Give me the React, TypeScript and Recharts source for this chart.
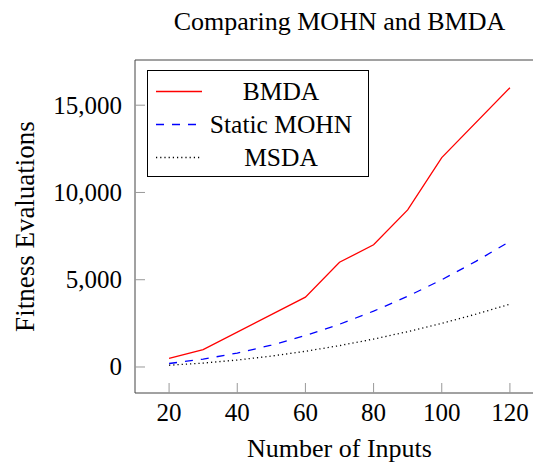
import { LineChart, Line, XAxis, YAxis, Legend, Label } from 'recharts';

const FONT = '"Liberation Serif", "Times New Roman", serif';

const INPUTS = [20, 30, 40, 50, 60, 70, 80, 90, 100, 110, 120];
const BMDA_INPUTS = [20, 30, 60, 70, 80, 90, 100, 120];
const BMDA_EVALS = [500, 1000, 4000, 6000, 7000, 9000, 12000, 16000];
const MOHN_EVALS = [200, 450, 800, 1250, 1800, 2450, 3200, 4050, 5000, 6050, 7200];
const MSDA_EVALS = [100, 225, 400, 625, 900, 1225, 1600, 2025, 2500, 3025, 3600];
const X_TICKS = [20, 40, 60, 80, 100, 120];
const Y_TICKS = [0, 5000, 10000, 15000];

const toPoints = (xs: number[], ys: number[]) => xs.map((x, i) => ({ x, y: ys[i] }));

const SERIES = [
  { name: 'BMDA', data: toPoints(BMDA_INPUTS, BMDA_EVALS), color: '#ff0000', dash: undefined },
  { name: 'Static MOHN', data: toPoints(INPUTS, MOHN_EVALS), color: '#0000ff', dash: '8 8' },
  { name: 'MSDA', data: toPoints(INPUTS, MSDA_EVALS), color: '#000000', dash: '1.2 3' },
];

const AXIS = '#444';
const TICK = '#999';

function LegendBox(): JSX.Element {
  return (
    <div
      style={{
        position: 'relative',
        width: 220,
        height: 105,
        border: '1px solid #000',
        background: '#fff',
        fontFamily: FONT,
        fontSize: 25.5,
        color: '#000',
      }}
    >
      {SERIES.map((s, i) => (
        <div key={s.name} style={{ position: 'absolute', left: 0, top: 4 + i * 33, height: 33, width: 220 }}>
          <svg width={46} height={33} style={{ position: 'absolute', left: 8, top: 0 }}>
            <line x1={0} x2={46} y1={16.5} y2={16.5} stroke={s.color} strokeWidth={1.3} strokeDasharray={s.dash} />
          </svg>
          <div style={{ position: 'absolute', left: 58, width: 150, top: 0, lineHeight: '33px', textAlign: 'center' }}>
            {s.name}
          </div>
        </div>
      ))}
    </div>
  );
}

const fmt = (v: number) => v.toLocaleString('en-US');

function XTick(props: any): JSX.Element {
  const { x, payload } = props;
  return (
    <text x={x} y={420.5} textAnchor="middle" style={{ fontFamily: FONT, fontSize: 25, fill: '#000' }}>
      {payload.value}
    </text>
  );
}

function YTick(props: any): JSX.Element {
  const { y, payload } = props;
  return (
    <text x={122} y={y} dy={8.5} textAnchor="end" style={{ fontFamily: FONT, fontSize: 25, fill: '#000' }}>
      {fmt(payload.value)}
    </text>
  );
}

export default function App(): JSX.Element {
  return (
    <div
      style={{
        position: 'fixed',
        left: 0,
        top: 0,
        width: 533,
        height: 462,
        overflow: 'hidden',
        background: '#fff',
        fontFamily: FONT,
      }}
    >
      <LineChart width={560} height={462} margin={{ top: 59, right: 16, bottom: 0, left: 0 }}>
        <XAxis
          dataKey="x"
          type="number"
          domain={[10, 130]}
          ticks={X_TICKS}
          height={69}
          tickSize={-10}
          stroke={AXIS}
          tickLine={{ stroke: TICK }}
          tick={<XTick />}
          allowDataOverflow
        >
          <Label value="Number of Inputs" position="insideBottom" offset={5} style={{ fill: '#000', fontSize: 26 }} />
        </XAxis>
        <XAxis
          xAxisId="top"
          orientation="top"
          dataKey="x"
          type="number"
          domain={[10, 130]}
          ticks={X_TICKS}
          height={1}
          tickSize={-10}
          stroke={AXIS}
          tickLine={{ stroke: TICK }}
          tick={false}
          allowDataOverflow
        >
          <Label value="Comparing MOHN and BMDA" position="top" offset={29} style={{ fill: '#000', fontSize: 26 }} />
        </XAxis>
        <YAxis
          type="number"
          domain={[-1490, 17590]}
          ticks={Y_TICKS}
          width={135}
          tickSize={-10}
          stroke={AXIS}
          tickLine={{ stroke: TICK }}
          tick={<YTick />}
          allowDataOverflow
        >
          <Label
            value="Fitness Evaluations"
            angle={-90}
            position="insideLeft"
            offset={24}
            style={{ fill: '#000', fontSize: 27, textAnchor: 'middle' }}
          />
        </YAxis>
        <Legend
          layout="horizontal"
          verticalAlign="middle"
          align="center"
          wrapperStyle={{ top: 70, left: 147, width: 222, height: 107 }}
          content={() => <LegendBox />}
        />
        {SERIES.map((s) => (
          <Line
            key={s.name}
            name={s.name}
            data={s.data}
            dataKey="y"
            type="linear"
            stroke={s.color}
            strokeWidth={1.3}
            strokeDasharray={s.dash}
            dot={false}
            activeDot={false}
            isAnimationActive={false}
          />
        ))}
      </LineChart>
    </div>
  );
}
